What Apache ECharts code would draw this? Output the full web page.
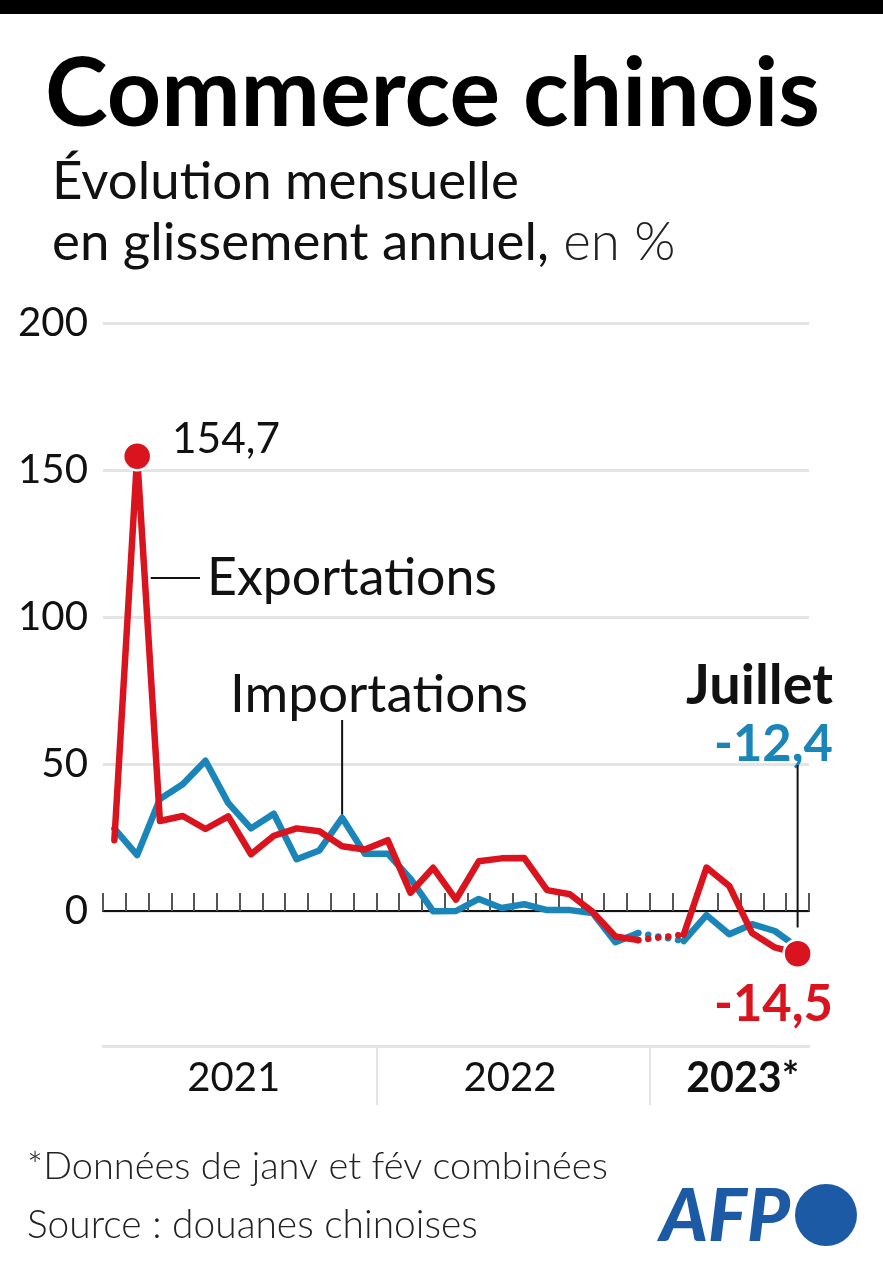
<!DOCTYPE html>
<html>
<head>
<meta charset="utf-8">
<script src="https://cdn.jsdelivr.net/npm/echarts@6/dist/echarts.min.js"></script>
<style>
html,body{margin:0;padding:0;background:#fff;}
#c{width:883px;height:1262px;}
</style>
</head>
<body>
<div id="c"></div>
<script>
// ---- DATA ----
const months = [
  '2021-01','2021-02','2021-03','2021-04','2021-05','2021-06','2021-07','2021-08','2021-09','2021-10','2021-11','2021-12',
  '2022-01','2022-02','2022-03','2022-04','2022-05','2022-06','2022-07','2022-08','2022-09','2022-10','2022-11','2022-12',
  '2023-01','2023-02','2023-03','2023-04','2023-05','2023-06','2023-07'
];
// Jan and Feb 2023 combined: value placed in Feb, Jan left empty
const exportsVals = [
  24.1, 154.7, 30.6, 32.3, 27.9, 32.2, 19.3, 25.6, 28.1, 27.1, 22.0, 20.9,
  24.1, 6.2, 14.7, 3.9, 16.9, 17.9, 18.0, 7.1, 5.7, -0.3, -8.7, -9.9,
  null, -8.0, 14.8, 8.5, -7.5, -12.4, -14.5
];
const importsVals = [
  28.0, 19.0, 38.1, 43.1, 51.1, 36.7, 28.1, 33.1, 17.6, 20.6, 31.7, 19.5,
  19.5, 11.0, -0.1, 0.0, 4.1, 1.0, 2.3, 0.3, 0.3, -0.7, -10.6, -7.5,
  null, -10.2, -1.4, -7.9, -4.5, -6.8, -12.4
];
const yearLabels = ['2021', '2022', '2023*'];
const yMin = -50, yMax = 200, yStep = 50;

// ---- STYLE ----
const RED = '#d9141e', BLUE = '#1a85b8', AFPBLUE = '#1d5aa6';
const FONT = 'Lato';

const ctx = document.createElement('canvas').getContext('2d');
function fit(text, weight, w, style) {
  ctx.font = (style || 'normal') + ' ' + weight + ' 100px ' + FONT;
  return 100 * w / ctx.measureText(text).width;
}

// dotted connectors across the combined Jan-Feb 2023 gap (only real points kept)
function gapSeries(vals) {
  return vals.map((v, i) => (i === 23 || i === 25) ? v : null);
}
// month boundaries for the year band (start of each month + end of last one)
const bounds = months.concat(['2023-08']);

const chart = echarts.init(document.getElementById('c'), null, {renderer: 'canvas'});

const fsYear = fit('2021', 'normal', 93);
const fsYearB = fit('2023*', 'bold', 113);
const fsTick = fit('200', 'normal', 70);

const gridLeft = 103, gridRight = 74;
const option = {
  animation: false,
  backgroundColor: '#fff',
  textStyle: {fontFamily: FONT},
  grid: [
    {left: gridLeft, right: gridRight, top: 323, bottom: 204},
    {left: gridLeft, right: gridRight, top: 1046, height: 59}
  ],
  xAxis: [
    {
      type: 'category', gridIndex: 0, data: months, boundaryGap: true,
      axisLine: {onZero: true, lineStyle: {color: '#111', width: 2}},
      axisTick: {show: true, inside: true, length: 18, interval: 0, lineStyle: {color: '#555', width: 2}},
      axisLabel: {show: false}, splitLine: {show: false}
    },
    {
      type: 'category', gridIndex: 1, data: bounds, boundaryGap: false, position: 'top',
      axisLine: {onZero: false, lineStyle: {color: '#e4e4e4', width: 3}},
      axisTick: {show: true, inside: true, length: 59,
        interval: (i) => i === 12 || i === 24,
        lineStyle: {color: '#e4e4e4', width: 2}},
      axisLabel: {
        inside: true, margin: 12,
        interval: (i) => i === 6 || i === 18 || i === 28,
        formatter: (v, i) => i === 6 ? '{a|' + yearLabels[0] + '}' : (i === 18 ? '{b|' + yearLabels[1] + '}' : '{c|' + yearLabels[2] + '}'),
        rich: {
          a: {fontSize: fsYear, color: '#111', fontFamily: FONT, padding: [0, 12, 0, 0]},
          b: {fontSize: fsYear, color: '#111', fontFamily: FONT, padding: [0, 6, 0, 0]},
          c: {fontSize: fsYearB, color: '#111', fontFamily: FONT, fontWeight: 'bold', padding: [0, 0, 0, 4]}
        }
      }
    }
  ],
  yAxis: [
    {
      type: 'value', gridIndex: 0, min: yMin, max: yMax, interval: yStep,
      axisLine: {show: false}, axisTick: {show: false},
      axisLabel: {fontSize: fsTick, color: '#111', margin: 15, fontFamily: FONT,
        formatter: (v) => v === yMin ? '' : String(v)},
      splitLine: {show: true, showMinLine: false, lineStyle: {color: '#e4e4e4', width: 3}}
    },
    {type: 'value', gridIndex: 1, show: false}
  ],
  series: [
    {type: 'line', name: 'Importations', data: importsVals, connectNulls: false, symbol: 'none',
      lineStyle: {color: BLUE, width: 6.5, join: 'round', cap: 'round'}, z: 2},
    {type: 'line', name: 'imp-gap', data: gapSeries(importsVals), connectNulls: true, symbol: 'none',
      lineStyle: {color: BLUE, width: 6.5, type: [0.1, 10], cap: 'round'}, z: 2},
    {type: 'line', name: 'Exportations', data: exportsVals, connectNulls: false, symbol: 'none',
      lineStyle: {color: RED, width: 6.5, join: 'round', cap: 'round'}, z: 3},
    {type: 'line', name: 'exp-gap', data: gapSeries(exportsVals), connectNulls: true, symbol: 'none',
      lineStyle: {color: RED, width: 6.5, type: [0.1, 10], cap: 'round'}, z: 3},
    {type: 'scatter', name: 'points', symbol: 'circle', symbolSize: 28,
      itemStyle: {color: RED, borderColor: '#fff', borderWidth: 2.5, opacity: 1}, z: 5,
      data: [[months[1], exportsVals[1]], [months[30], exportsVals[30]]]}
  ]
};
chart.setOption(option);

// ---- annotations (anchored to data via the chart's scales) ----
const px = (i, v) => chart.convertToPixel({gridIndex: 0}, [months[i], v]);
const pFeb = px(1, exportsVals[1]);
const pMar = px(2, exportsVals[2]);
const pNov = px(10, importsVals[10]);
const pJulImp = px(30, importsVals[30]);

const expLabelY = 578;
const tSeg = (expLabelY - pFeb[1]) / (pMar[1] - pFeb[1]);
const expLineX = pFeb[0] + tSeg * (pMar[0] - pFeb[0]) + 6;

const fsTitle = fit('Commerce chinois', 'bold', 775);
const fsSub1 = fit('Évolution mensuelle', 'normal', 467);
const fsFoot1 = fit('*Données de janv et fév combinées', '300', 581);
const fsFoot2 = fit('Source : douanes chinoises', '300', 451);
const fsExp = fit('Exportations', 'normal', 290);
const fsImp = fit('Importations', 'normal', 298);
const fsPeak = fit('154,7', 'normal', 108);
const fsJul = fit('Juillet', 'bold', 147);
const fsVal = fit('-12,4', 'bold', 119);
const fsAfp = fit('AFP', '900', 130, 'italic');

const graphic = [
  {type: 'rect', shape: {x: 0, y: 0, width: 883, height: 14}, style: {fill: '#000'}},
  {type: 'text', x: 45, y: 95, style: {text: 'Commerce chinois', font: 'bold ' + fsTitle + 'px ' + FONT, fill: '#000', textVerticalAlign: 'middle'}},
  {type: 'text', x: 52, y: 182, style: {text: 'Évolution mensuelle', font: 'normal ' + fsSub1 + 'px ' + FONT, fill: '#111', textVerticalAlign: 'middle'}},
  {type: 'text', x: 52, y: 243, style: {
    text: '{r|en glissement annuel,}{l| en %}',
    rich: {r: {font: 'normal ' + fsSub1 + 'px ' + FONT, fill: '#111'}, l: {font: '300 ' + fsSub1 + 'px ' + FONT, fill: '#222'}},
    textVerticalAlign: 'middle'}},
  // 154,7
  {type: 'text', x: 172, y: pFeb[1] - 17, style: {text: '154,7', font: 'normal ' + fsPeak + 'px ' + FONT, fill: '#111', textVerticalAlign: 'middle'}},
  // Exportations
  {type: 'line', shape: {x1: expLineX, y1: expLabelY, x2: 200, y2: expLabelY}, style: {stroke: '#111', lineWidth: 2}},
  {type: 'text', x: 207, y: expLabelY, style: {text: 'Exportations', font: 'normal ' + fsExp + 'px ' + FONT, fill: '#111', textVerticalAlign: 'middle'}},
  // Importations
  {type: 'text', x: 230, y: 695, style: {text: 'Importations', font: 'normal ' + fsImp + 'px ' + FONT, fill: '#111', textVerticalAlign: 'middle'}},
  {type: 'line', shape: {x1: pNov[0], y1: 720, x2: pNov[0], y2: pNov[1] - 3}, style: {stroke: '#111', lineWidth: 2}},
  // Juillet
  {type: 'text', x: 833, y: 686, style: {text: 'Juillet', font: 'bold ' + fsJul + 'px ' + FONT, fill: '#111', textAlign: 'right', textVerticalAlign: 'middle'}},
  {type: 'text', x: 833, y: 745, style: {text: '-12,4', font: 'bold ' + fsVal + 'px ' + FONT, fill: BLUE, textAlign: 'right', textVerticalAlign: 'middle'}},
  {type: 'line', shape: {x1: pJulImp[0], y1: 765, x2: pJulImp[0], y2: pJulImp[1] - 20}, style: {stroke: '#111', lineWidth: 2}},
  {type: 'text', x: 833, y: 1005, style: {text: '-14,5', font: 'bold ' + fsVal + 'px ' + FONT, fill: RED, textAlign: 'right', textVerticalAlign: 'middle'}},
  // footer
  {type: 'text', x: 27, y: 1167, style: {text: '*Données de janv et fév combinées', font: '300 ' + fsFoot1 + 'px ' + FONT, fill: '#222', textVerticalAlign: 'middle'}},
  {type: 'text', x: 27, y: 1225, style: {text: 'Source : douanes chinoises', font: '300 ' + fsFoot2 + 'px ' + FONT, fill: '#222', textVerticalAlign: 'middle'}},
  {type: 'text', x: 660, y: 1217, style: {text: 'AFP', font: 'italic 900 ' + fsAfp + 'px ' + FONT, fill: AFPBLUE, textVerticalAlign: 'middle'}},
  {type: 'circle', shape: {cx: 826, cy: 1215, r: 31}, style: {fill: AFPBLUE}}
];
chart.setOption({graphic: graphic});
</script>
</body>
</html>
